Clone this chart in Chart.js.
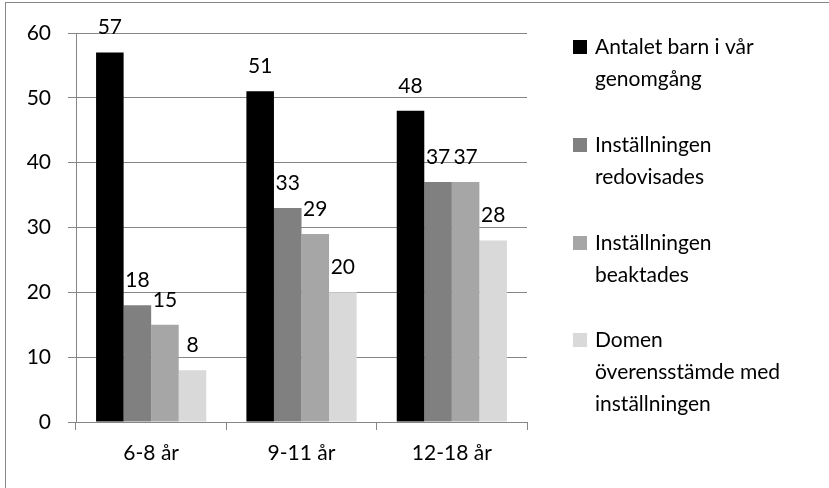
<!DOCTYPE html>
<html>
<head>
<meta charset="utf-8">
<script src="https://cdn.jsdelivr.net/npm/chart.js@4/dist/chart.umd.min.js"></script>
<style>
  html, body { margin: 0; padding: 0; background: #fff; }
  #wrap { position: relative; width: 829px; height: 488px; }
  #frame { position: absolute; left: 5px; top: 2px; right: 0; bottom: 0;
           border-top: 1px solid #868686; border-left: 1px solid #868686; }
  canvas { position: absolute; left: 0; top: 0; }
</style>
</head>
<body>
<div id="wrap">
  <div id="frame"></div>
  <canvas id="bar-chart" width="829" height="488"></canvas>
</div>
<script>
// categories and series
const ageGroups = ["6-8 år", "9-11 år", "12-18 år"];
const antaletBarn = [57, 51, 48];
const redovisades = [18, 33, 37];
const beaktades = [15, 29, 37];
const overensstamde = [8, 20, 28];
const yTicks = [0, 10, 20, 30, 40, 50, 60];

const seriesNames = [
  ["Antalet barn i vår", "genomgång"],
  ["Inställningen", "redovisades"],
  ["Inställningen", "beaktades"],
  ["Domen", "överensstämde med", "inställningen"]
];
const seriesColors = ["#000000", "#808080", "#a6a6a6", "#d9d9d9"];

const FONT = "Lato, 'Open Sans', sans-serif";

//value labels above each bar
const valueLabels = {
  id: 'valueLabels',
  afterDatasetsDraw(chart) {
    const ctx = chart.ctx;
    ctx.save();
    ctx.font = "21px " + FONT;
    ctx.fillStyle = "#000";
    ctx.textAlign = "center";
    ctx.textBaseline = "alphabetic";
    chart.data.datasets.forEach((ds, i) => {
      chart.getDatasetMeta(i).data.forEach((bar, j) => {
        ctx.fillText(ds.data[j], bar.x, bar.y - 18);
      });
    });
    ctx.restore();
  }
};

//legend on the right, with wrapped lines
const sideLegend = {
  id: 'sideLegend',
  afterDraw(chart) {
    const ctx = chart.ctx;
    ctx.save();
    ctx.font = "21px " + FONT;
    ctx.textBaseline = "middle";
    const x = 573, lineH = 32;
    const tops = [47, 145, 243, 340];
    chart.data.datasets.forEach((ds, i) => {
      const y = tops[i];
      ctx.fillStyle = ds.backgroundColor;
      ctx.fillRect(x, y - 7, 14, 14);
      ctx.fillStyle = "#000";
      seriesNames[i].forEach((line, k) => {
        ctx.fillText(line, x + 22, y + k * lineH);
      });
    });
    ctx.restore();
  }
};

new Chart(document.getElementById("bar-chart"), {
  type: 'bar',
  data: {
    labels: ageGroups,
    datasets: [
      { label: seriesNames[0].join(" "), data: antaletBarn, backgroundColor: seriesColors[0] },
      { label: seriesNames[1].join(" "), data: redovisades, backgroundColor: seriesColors[1] },
      { label: seriesNames[2].join(" "), data: beaktades, backgroundColor: seriesColors[2] },
      { label: seriesNames[3].join(" "), data: overensstamde, backgroundColor: seriesColors[3] }
    ]
  },
  options: {
    responsive: false,
    animation: false,
    layout: { padding: { top: 33, right: 302, bottom: 0, left: 0 } },
    datasets: { bar: { categoryPercentage: 0.733, barPercentage: 1.0 } },
    plugins: {
      legend: { display: false },
      tooltip: { enabled: false }
    },
    scales: {
      x: {
        afterFit: (scale) => { scale.height = 66; },
        grid: { offset: true, drawOnChartArea: false, drawTicks: true, tickLength: 8, color: "#868686" },
        border: { color: "#868686" },
        ticks: { color: "#000", font: { size: 21, family: FONT }, padding: 11 }
      },
      y: {
        min: 0,
        max: 60,
        afterFit: (scale) => { scale.width = 76; },
        afterBuildTicks: (scale) => { scale.ticks = yTicks.map(v => ({ value: v })); },
        grid: { color: "#868686", tickLength: 8 },
        border: { color: "#868686" },
        ticks: { color: "#000", font: { size: 21, family: FONT }, padding: 17 }
      }
    }
  },
  plugins: [valueLabels, sideLegend]
});
</script>
</body>
</html>
